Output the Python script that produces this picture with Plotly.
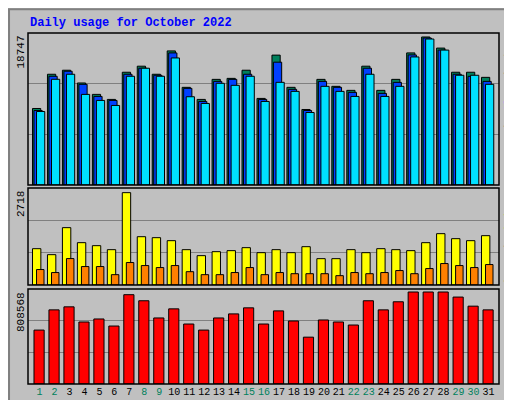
import plotly.graph_objects as go

days = list(range(1, 32))
hits = [9690,14025,14535,12920,11475,10838,14280,15045,14025,16983,12368,10838,13378,13505,14535,10965,16448,12368,9563,13378,12495,11985,15045,11985,13378,16730,18747,17340,14280,14280,13633]
files = [9435,13770,14408,12750,11220,10710,14025,14790,13898,16728,12240,10583,13123,13378,14025,10838,15555,12113,9435,13123,12368,11730,14790,11603,12998,16475,18615,17085,14025,13760,13123]
pages = [9308,13388,14025,11475,10710,10073,13770,14790,13770,16090,11178,10328,12878,12623,13770,10583,13003,11858,9180,12495,11858,11220,14025,11220,12495,16218,18488,17085,13898,13898,12750]
visits = [1069,893,1688,1246,1158,1040,2718,1422,1393,1305,1040,864,981,1011,1099,952,1040,952,1128,775,775,1040,952,1069,1040,1011,1246,1511,1364,1305,1452]
sites = [455,366,778,543,543,304,661,572,513,572,392,304,304,366,513,304,366,333,333,333,275,366,333,366,425,333,484,631,572,513,602]
kbytes = [473900,651600,678300,545000,571600,509400,784900,731600,580500,660500,527200,473900,580500,616100,669400,527200,642700,553800,411700,562700,545000,518300,731600,651600,722800,808568,808568,808568,764100,684200,651600]
weekends = {1, 2, 8, 9, 15, 16, 22, 23, 29, 30}

MONO = "Liberation Mono, DejaVu Sans Mono, monospace"
BG = "#c0c0c0"
xr = [0.23, 31.7]
xd = [20/512, 491/512]
doms = {"y": [1-177/400, 1-25/400], "y2": [1-277/400, 1-180/400], "y3": [1-376/400, 1-281/400]}

fig = go.Figure()
def bar(vals, color, off, w, xa, ya):
    fig.add_trace(go.Bar(x=days, y=vals, offset=off, width=w, marker=dict(color=color, line=dict(color="black", width=1)),
                         xaxis=xa, yaxis=ya, showlegend=False, hoverinfo="y"))
bar(hits, "#00805c", -0.47, 0.55, "x", "y")
bar(files, "#0040ff", -0.37, 0.55, "x", "y")
bar(pages, "#00e0ff", -0.2, 0.55, "x", "y")
bar(visits, "#ffff00", -0.47, 0.56, "x2", "y2")
bar(sites, "#ff8000", -0.2, 0.5, "x2", "y2")
bar(kbytes, "#ff0000", -0.37, 0.68, "x3", "y3")

ticktext = [f'<span style="color:{"#00805c" if d in weekends else "black"}">{d}</span>' for d in days]
common_x = dict(domain=xd, range=xr, showgrid=False, zeroline=False, fixedrange=True, automargin=False)
ycommon = dict(showticklabels=False, gridcolor="#808080", zeroline=False, automargin=False)
fig.update_layout(
    width=512, height=400, margin=dict(l=0, r=0, t=0, b=0, autoexpand=False),
    paper_bgcolor=BG, plot_bgcolor=BG, barmode="overlay",
    xaxis=dict(**common_x, anchor="y", showticklabels=False),
    xaxis2=dict(**common_x, anchor="y2", showticklabels=False),
    xaxis3=dict(**common_x, anchor="y3", tickmode="array", tickvals=days, ticktext=ticktext, tickangle=0,
                tickfont=dict(family=MONO, size=10), ticks=""),
    yaxis=dict(domain=doms["y"], range=[0, 19250], tickvals=[6400, 12800], anchor="x", **ycommon),
    yaxis2=dict(domain=doms["y2"], range=[0, 2855], tickvals=[950, 1900], anchor="x2", **ycommon),
    yaxis3=dict(domain=doms["y3"], range=[0, 835000], tickvals=[278000, 556000], anchor="x3", **ycommon),
)
for k, d in doms.items():
    fig.add_shape(type="rect", xref="paper", yref="paper", x0=xd[0], x1=xd[1], y0=d[0], y1=d[1], line=dict(color="black", width=1.5))
fig.add_shape(type="rect", xref="paper", yref="paper", x0=0.002, x1=0.998, y0=0.003, y1=0.997, line=dict(color="#808080", width=2))

fig.add_annotation(text="<b>Daily usage for October 2022</b>", xref="paper", yref="paper", x=20/512, y=1-6/400,
                   xanchor="left", yanchor="top", showarrow=False, font=dict(family=MONO, size=12, color="#0000ff"))
for txt, ytop in [("18747", 26), ("2718", 181), ("808568", 282)]:
    fig.add_annotation(text=txt, xref="paper", yref="paper", x=13/512, y=1-ytop/400, xanchor="center", yanchor="top",
                       textangle=-90, showarrow=False, font=dict(family=MONO, size=11, color="black"))
right = [
    ('<span style="color:#00e0ff">Pages</span> / <span style="color:#0040ff">Files</span> / <span style="color:#00805c">Hits</span>', 97),
    ('<span style="color:#ff8000">Sites</span> / <span style="color:#ffff00">Visits</span>', 237),
    ('<span style="color:#ff0000">KBytes</span>', 355),
]
for txt, yc in right:
    fig.add_annotation(text=txt, xref="paper", yref="paper", x=493/512, y=1-yc/400, xanchor="left", yanchor="middle",
                       textangle=-90, showarrow=False, font=dict(family=MONO, size=11, color="black"))

fig.write_html("out.html")
